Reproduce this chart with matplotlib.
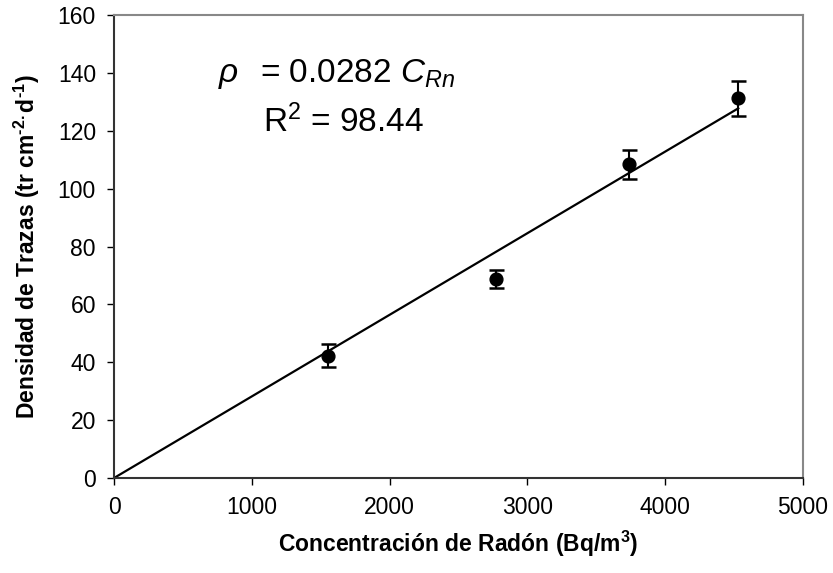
import matplotlib
matplotlib.use('Agg')
import matplotlib.pyplot as plt
import numpy as np

# datos
conc_rn = [1550, 2770, 3740, 4530]
densidad = [42.2, 68.7, 108.5, 131.2]
err_dens = [4.0, 3.2, 5.0, 6.0]
pendiente = 0.0282
r2_texto = '98.44'
x_ticks = [0, 1000, 2000, 3000, 4000, 5000]
y_ticks = [0, 20, 40, 60, 80, 100, 120, 140, 160]

plt.rcParams['font.family'] = ['Liberation Sans', 'DejaVu Sans']
plt.rcParams['mathtext.fontset'] = 'custom'
plt.rcParams['mathtext.rm'] = 'Liberation Sans'
plt.rcParams['mathtext.it'] = 'Liberation Sans:italic'
plt.rcParams['mathtext.bf'] = 'Liberation Sans:bold'

fig = plt.figure(figsize=(8.33, 5.73), dpi=100)
ax = fig.add_axes([0.1369, 0.1658, 0.964 - 0.1369, 0.9738 - 0.1658])

# recta de ajuste por el origen
x_fit = np.array([0, conc_rn[-1]])
ax.plot(x_fit, pendiente * x_fit, color='black', linewidth=1.6, zorder=2)

ax.errorbar(conc_rn, densidad, yerr=err_dens, fmt='o', color='black',
            markersize=9.2, capsize=5.4, elinewidth=1.5, capthick=1.8, zorder=3)

ax.set_xlim(0, 5000)
ax.set_ylim(0, 160)
ax.set_xticks(x_ticks)
ax.set_yticks(y_ticks)
ax.tick_params(axis='both', direction='out', length=5, width=1, labelsize=16.5,
               colors='black', pad=8)

for side in ['left', 'bottom']:
    ax.spines[side].set_color('#333333')
    ax.spines[side].set_linewidth(1.5)
for side in ['top', 'right']:
    ax.spines[side].set_color('#888888')
    ax.spines[side].set_linewidth(1.5)

ax.set_xlabel(r'Concentración de Radón (Bq/m$^{\mathbf{3}}$)', fontsize=16.5,
              fontweight='bold', labelpad=7)
ax.set_ylabel('Densidad de Trazas (tr cm$^{\\mathbf{\u20102.}}$d$^{\\mathbf{\u20101}}$)',
              fontsize=16.5, fontweight='bold', labelpad=11)

ax.text(755, 136.8, r'$\rho$', fontsize=24, ha='left', va='baseline')
ax.text(1060, 136.8, r'= 0.0282 $C_{Rn}$', fontsize=24, ha='left', va='baseline')
ax.text(1081, 119.6, r'R$^2$ = ' + r2_texto, fontsize=24, ha='left', va='baseline')

fig.savefig('out.png', dpi=100)
